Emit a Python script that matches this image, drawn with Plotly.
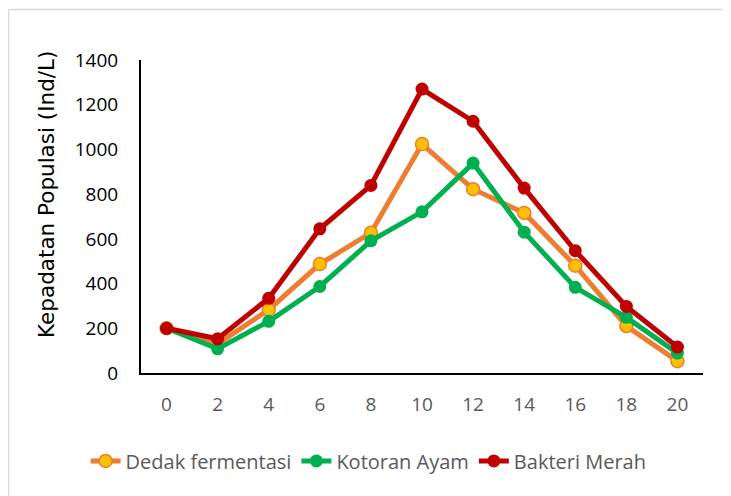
import plotly.graph_objects as go

days = [0, 2, 4, 6, 8, 10, 12, 14, 16, 18, 20]
dedak = [200, 130, 283, 487, 627, 1024, 822, 716, 480, 210, 53]
kotoran = [200, 108, 231, 387, 591, 721, 939, 630, 383, 249, 89]
bakteri = [200, 153, 334, 645, 839, 1270, 1126, 827, 547, 298, 116]
y_ticks = [0, 200, 400, 600, 800, 1000, 1200, 1400]

FONT = "Open Sans"
fig = go.Figure()
fig.add_trace(go.Scatter(x=days, y=dedak, name="Dedak fermentasi", mode="lines+markers",
                         line=dict(color="#ED7D31", width=5),
                         marker=dict(size=13, color="#FFC000", line=dict(color="#ED7D31", width=1.5))))
fig.add_trace(go.Scatter(x=days, y=kotoran, name="Kotoran Ayam", mode="lines+markers",
                         line=dict(color="#00B050", width=5),
                         marker=dict(size=13, color="#00B050")))
fig.add_trace(go.Scatter(x=days, y=bakteri, name="Bakteri Merah", mode="lines+markers",
                         line=dict(color="#C00000", width=5),
                         marker=dict(size=13, color="#C00000")))

fig.update_layout(
    width=723, height=488,
    margin=dict(l=133, r=28, t=52, b=123, autoexpand=False),
    paper_bgcolor="white", plot_bgcolor="white",
    font=dict(family=FONT, size=19, color="#000000"),
    showlegend=True,
    legend=dict(orientation="h", xref="paper", x=0.405, xanchor="center",
                yref="paper", y=-0.281, yanchor="middle",
                font=dict(size=20, color="#595959"),
                itemwidth=30, tracegroupgap=0, bgcolor="rgba(0,0,0,0)"),
    xaxis=dict(range=[-1, 21], tickvals=days, ticktext=[str(d) for d in days],
               showgrid=False, zeroline=False, showline=True, linecolor="#000000", linewidth=2,
               ticks="", tickfont=dict(color="#595959", size=19), ticklabelstandoff=13,
               tickangle=0, automargin=False),
    yaxis=dict(range=[0, 1400], tickvals=y_ticks, showgrid=False, zeroline=False,
               showline=True, linecolor="#000000", linewidth=2, ticks="",
               tickfont=dict(color="#000000", size=19), ticklabelstandoff=17, automargin=False),
    annotations=[dict(text="Kepadatan Populasi (Ind/L)", textangle=-90, showarrow=False,
                      xref="paper", yref="paper", x=-0.1673, y=0.572,
                      xanchor="center", yanchor="middle",
                      font=dict(family="DejaVu Sans", size=21.5, color="#000000"))],
    shapes=[dict(type="rect", xref="paper", yref="paper", x0=-0.2358, x1=1.0445,
                 y0=-0.5, y1=1.1613, line=dict(color="#D9D9D9", width=1.5), layer="below")],
)
fig.write_html("out.html")
